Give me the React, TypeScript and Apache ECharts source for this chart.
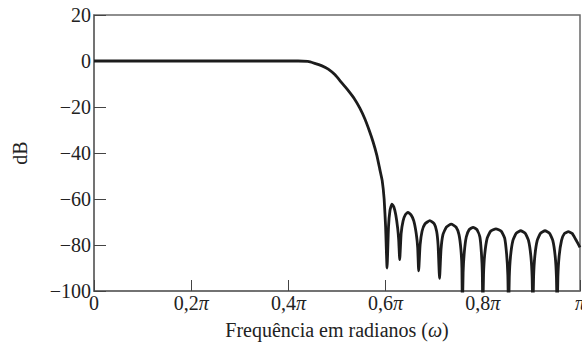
import React, { useEffect, useRef } from "react";
import * as echarts from "echarts";

// Normalised frequency (ω / π) and magnitude response in dB
const freqOverPi = [
  0, 0.1, 0.2, 0.3, 0.4, 0.42, 0.44, 0.454, 0.468, 0.482, 0.496, 0.509, 0.522, 0.536,
  0.547, 0.557, 0.566, 0.574, 0.582, 0.588, 0.593, 0.597, 0.6, 0.603,
  0.606, 0.609, 0.613, 0.617, 0.621, 0.625, 0.627, 0.629,
  0.632, 0.636, 0.641, 0.646, 0.652, 0.658, 0.663, 0.666, 0.668,
  0.671, 0.675, 0.681, 0.691, 0.7, 0.705, 0.708, 0.711,
  0.714, 0.718, 0.725, 0.735, 0.745, 0.751, 0.755, 0.757, 0.758,
  0.7595, 0.762, 0.766, 0.772, 0.78, 0.788, 0.794, 0.797, 0.799, 0.8,
  0.8015, 0.804, 0.809, 0.816, 0.827, 0.838, 0.845, 0.849, 0.8515, 0.853,
  0.8545, 0.857, 0.862, 0.869, 0.878, 0.887, 0.894, 0.899, 0.9015, 0.903,
  0.9045, 0.907, 0.912, 0.919, 0.928, 0.937, 0.944, 0.949, 0.9515, 0.953,
  0.9545, 0.957, 0.962, 0.968, 0.976, 0.984, 0.991, 1.0,
];
const magnitudeDb = [
  0, 0, 0, 0, 0, 0, -0.2, -1.0, -2.0, -3.5, -6.0, -9.3, -12.6, -16.5,
  -20.5, -25, -30, -35, -41, -47, -52, -60, -72, -90,
  -72, -65, -62.2, -63.5, -67, -73, -78, -86.4,
  -75, -69.5, -66.7, -65.8, -66.8, -69.5, -75, -81, -91.2,
  -80, -74, -70.8, -69.4, -70.8, -74, -80, -94.5,
  -82, -75.5, -72.2, -70.9, -72.2, -75.5, -82, -90, -110,
  -92, -83, -76.5, -73.3, -72.3, -73.3, -76.5, -83, -92, -110,
  -93, -84, -77, -74, -73, -74, -77, -84, -93, -110,
  -94, -85, -78, -74.8, -73.8, -74.8, -78, -85, -94, -110,
  -94, -85, -78, -74.8, -73.8, -74.8, -78, -85, -94, -110,
  -94, -85, -78, -75, -74.2, -75, -77.5, -81,
];

const yTicks = { min: -100, max: 20, step: 20 };
const xTicks = { min: 0, max: 1, step: 0.2 };

const FONT = "'Liberation Serif', 'DejaVu Serif', serif";
const FONT_SIZE = 20;
const AXIS_GRAY = "#6a6a6a";
const TEXT = "#222";

function xLabel(v: number): string {
  if (Math.abs(v) < 1e-9) return "0";
  if (Math.abs(v - 1) < 1e-9) return "{p|π}";
  return v.toFixed(1).replace(".", ",") + "{p|π}";
}

export default function App() {
  const ref = useRef<HTMLDivElement>(null);

  useEffect(() => {
    if (!ref.current) return;
    const chart = echarts.init(ref.current, null, { renderer: "svg" });
    const data = freqOverPi.map((f, i) => [f, magnitudeDb[i]]);
    chart.setOption({
      animation: false,
      backgroundColor: "#fff",
      grid: {
        left: 94,
        top: 15,
        width: 486,
        height: 276,
        outerBoundsMode: "none",
        containLabel: false,
        show: true,
        borderColor: AXIS_GRAY,
        borderWidth: 1.5,
        backgroundColor: "transparent",
      },
      xAxis: {
        type: "value",
        min: xTicks.min,
        max: xTicks.max,
        interval: xTicks.step,
        name: "Frequência em radianos ({i|ω})",
        nameLocation: "middle",
        nameGap: 29,
        nameTextStyle: {
          fontFamily: FONT,
          fontSize: FONT_SIZE,
          color: TEXT,
          rich: { i: { fontFamily: FONT, fontSize: FONT_SIZE, fontStyle: "italic", color: TEXT } },
        },
        axisLine: { show: true, onZero: false, lineStyle: { color: AXIS_GRAY, width: 1.5 } },
        axisTick: { show: true, inside: true, length: 11, lineStyle: { color: "#444", width: 1 } },
        splitLine: { show: false },
        axisLabel: {
          show: true,
          showMinLabel: true,
          showMaxLabel: true,
          hideOverlap: false,
          margin: 2,
          fontFamily: FONT,
          fontSize: FONT_SIZE,
          color: TEXT,
          formatter: xLabel,
          rich: { p: { fontFamily: FONT, fontSize: FONT_SIZE, fontStyle: "italic", color: TEXT } },
        },
      },
      yAxis: {
        type: "value",
        min: yTicks.min,
        max: yTicks.max,
        interval: yTicks.step,
        name: "dB",
        nameLocation: "middle",
        nameRotate: 90,
        nameGap: 64,
        nameTextStyle: { fontFamily: FONT, fontSize: FONT_SIZE, color: TEXT },
        axisLine: { show: true, onZero: false, lineStyle: { color: AXIS_GRAY, width: 1.5 } },
        axisTick: { show: true, inside: true, length: 12, lineStyle: { color: "#444", width: 1 } },
        splitLine: { show: false },
        axisLabel: {
          margin: 3,
          fontFamily: FONT,
          fontSize: FONT_SIZE,
          color: TEXT,
          formatter: (v: number) => (v < 0 ? "\u2212" + Math.abs(v) : String(v)),
        },
      },
      series: [
        {
          type: "line",
          data,
          showSymbol: false,
          smooth: 0.15,
          clip: true,
          lineStyle: { color: "#1c1c1c", width: 2.8 },
        },
      ],
    });
    return () => chart.dispose();
  }, []);

  return (
    <div
      ref={ref}
      style={{ position: "fixed", left: 0, top: 0, width: 582, height: 343, background: "#fff" }}
    />
  );
}
